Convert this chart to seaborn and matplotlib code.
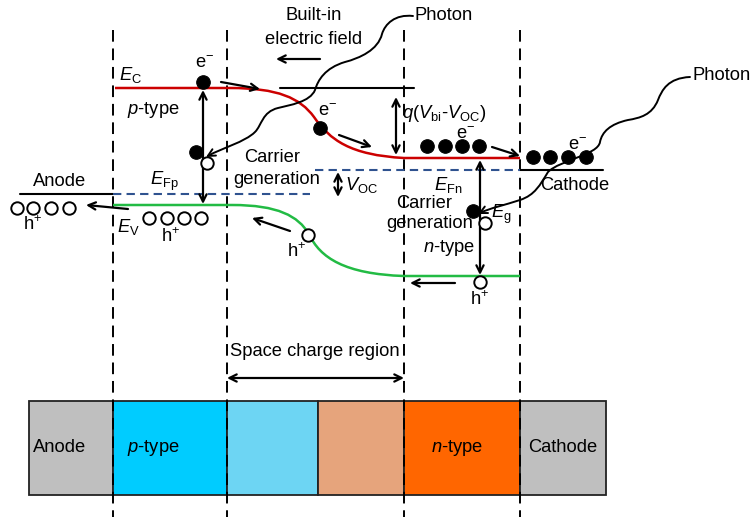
import numpy as np
import matplotlib
matplotlib.use('Agg')
import matplotlib.pyplot as plt
import seaborn as sns
from matplotlib.path import Path
from matplotlib.patches import PathPatch, FancyArrowPatch, Rectangle
import pandas as pd

sns.set_theme(style='white')
plt.rcParams['font.family'] = ['Liberation Sans', 'DejaVu Sans']
plt.rcParams['text.color'] = 'black'
plt.rcParams['mathtext.fontset'] = 'custom'
plt.rcParams['mathtext.rm'] = 'Liberation Sans'
plt.rcParams['mathtext.it'] = 'Liberation Sans:italic'
FS = 13.2

# ---- layout data (pixel space, y downward) ----
region_x = [113, 227, 404, 520]                      # dashed boundaries
box_edges = [29, 113, 227, 318, 404, 520, 606]
box_colors = ['#BFBFBF', '#00CCFF', '#6DD5F3', '#E6A47C', '#FF6600', '#BFBFBF']
box_labels = ['Anode', '$p$-type', '', '', '$n$-type', 'Cathode']
box_label_x = [60, 153, 0, 0, 457, 563]
box_top, box_bottom = 401, 495

# band edges as bezier control points
ec_pts = [(115, 88), (230, 88), (278, 88), (300, 98), (314, 117),
          (330, 140), (350, 155), (404, 158), (520, 158)]
ev_pts = [(113, 205), (232, 205), (278, 205), (298, 216), (309, 234),
          (320, 258), (345, 274), (404, 276), (520, 276)]
band_codes = [Path.MOVETO, Path.LINETO, Path.CURVE4, Path.CURVE4, Path.CURVE4,
              Path.CURVE4, Path.CURVE4, Path.CURVE4, Path.LINETO]

photon1 = [(413, 16), (395, 14), (385, 24), (382, 34), (378, 50), (360, 58), (345, 62),
           (325, 68), (318, 80), (315, 90), (310, 102), (290, 105), (278, 108),
           (262, 112), (262, 125), (255, 132), (245, 142), (222, 148), (206, 157)]
photon2 = [(690, 77), (668, 78), (662, 90), (658, 100), (652, 115), (640, 118), (628, 120),
           (610, 124), (602, 132), (600, 142), (598, 155), (560, 160), (548, 172),
           (540, 185), (535, 195), (520, 200), (505, 205), (490, 208), (478, 214)]

filled_x = [203, 196, 320, 427, 445, 462, 479, 533, 550, 568, 586, 473]
filled_y = [82, 152, 128, 146, 146, 146, 146, 157, 157, 157, 157, 211]
open_x = [207, 17, 33, 51, 69, 149, 167, 184, 201, 308, 485, 480]
open_y = [163, 208, 208, 208, 208, 218, 218, 218, 218, 235, 223, 282]

single_arrows = [((221, 82), (260, 89)), ((339, 135), (372, 147)), ((492, 147), (520, 156)),
                 ((320, 59), (276, 59)), ((128, 209), (86, 205)), ((290, 231), (252, 218)),
                 ((455, 283), (410, 283))]
double_arrows = [((203, 90), (203, 204)), ((480, 160), (480, 275)), ((396, 97), (396, 155)),
                 ((338, 172), (338, 197)), ((227, 378), (404, 378))]

level_lines = [((280, 414), (88, 88)), ((20, 113), (194, 194)), ((520, 603), (170, 170))]
fermi_lines = [((113, 310), (194, 194)), ((315, 520), (170, 170))]

labels = [
    ('Built-in', 314, 16, 'center'), ('electric field', 314, 39, 'center'),
    ('Photon', 415, 16, 'left'), ('Photon', 693, 75, 'left'),
    (r'$E_{\rm C}$', 119, 75, 'left'), ('$p$-type', 127, 110, 'left'),
    ('e$^{-}$', 205, 63, 'center'), ('e$^{-}$', 328, 111, 'center'),
    ('e$^{-}$', 466, 134, 'center'), ('e$^{-}$', 578, 145, 'center'),
    ('Carrier', 272, 157, 'center'), ('generation', 277, 180, 'center'),
    ('Anode', 60, 181, 'center'), (r'$E_{\rm Fp}$', 150, 181, 'left'),
    (r'$E_{\rm V}$', 117, 227, 'left'),
    ('h$^{+}$', 33, 225, 'center'), ('h$^{+}$', 171, 237, 'center'),
    ('h$^{+}$', 297, 252, 'center'), ('h$^{+}$', 480, 300, 'center'),
    (r'$V_{\rm OC}$', 345, 185, 'left'),
    (r'$q$($V_{\rm bi}$-$V_{\rm OC}$)', 402, 114, 'left'),
    (r'$E_{\rm Fn}$', 434, 185, 'left'), ('Cathode', 540, 185, 'left'),
    ('Carrier', 424, 203, 'center'), ('generation', 430, 224, 'center'),
    (r'$E_{\rm g}$', 491, 214, 'left'), ('$n$-type', 449, 248, 'center'),
    ('Space charge region', 315, 351, 'center'),
]

fig = plt.figure(figsize=(7.56, 5.17), dpi=100)
ax = fig.add_axes([0, 0, 1, 1])

# bottom device stack
for i, col in enumerate(box_colors):
    x0, x1 = box_edges[i], box_edges[i + 1]
    ax.add_patch(Rectangle((x0, box_top), x1 - x0, box_bottom - box_top,
                           facecolor=col, edgecolor='#222222', lw=1.3, zorder=1))
    if box_labels[i]:
        ax.text(box_label_x[i], (box_top + box_bottom) / 2, box_labels[i],
                ha='center', va='center', fontsize=FS, zorder=3)

# dashed region boundaries
for x in region_x:
    ax.plot([x, x], [30, 517], color='black', lw=1.4, ls=(0, (6, 3.5)), zorder=2)

# band edges
ax.add_patch(PathPatch(Path(ec_pts, band_codes), facecolor='none', edgecolor='#CC0000', lw=1.8, zorder=3))
ax.add_patch(PathPatch(Path(ev_pts, band_codes), facecolor='none', edgecolor='#22BB44', lw=1.8, zorder=3))

for xs, ys in level_lines:
    ax.plot(xs, ys, color='black', lw=1.5, zorder=3)
for xs, ys in fermi_lines:
    ax.plot(xs, ys, color='#2F528F', lw=1.5, ls=(0, (4, 2.5)), zorder=3)

# photons
for pts in (photon1, photon2):
    codes = [Path.MOVETO] + [Path.CURVE4] * (len(pts) - 1)
    ax.add_patch(FancyArrowPatch(path=Path(pts, codes), arrowstyle='->', mutation_scale=13,
                                 lw=1.4, color='black', zorder=5))

for (x0, y0), (x1, y1) in single_arrows:
    ax.annotate('', xy=(x1, y1), xytext=(x0, y0),
                arrowprops=dict(arrowstyle='->', lw=1.6, color='black',
                                shrinkA=0, shrinkB=0, mutation_scale=13), zorder=4)
for (x0, y0), (x1, y1) in double_arrows:
    ax.annotate('', xy=(x1, y1), xytext=(x0, y0),
                arrowprops=dict(arrowstyle='<->', lw=1.6, color='black',
                                shrinkA=0, shrinkB=0, mutation_scale=13), zorder=4)

# carriers
dots = pd.DataFrame({'x': filled_x, 'y': filled_y})
holes = pd.DataFrame({'x': open_x, 'y': open_y})
sns.scatterplot(data=dots, x='x', y='y', ax=ax, s=95, color='black', edgecolor='black', zorder=6)
sns.scatterplot(data=holes, x='x', y='y', ax=ax, s=80, facecolor='white', edgecolor='black',
                linewidth=1.4, zorder=6)
ax.set_xlim(0, 756)
ax.set_ylim(517, 0)
ax.axis('off')

for txt, x, y, ha in labels:
    ax.text(x, y, txt, ha=ha, va='center', fontsize=FS, zorder=7)

fig.savefig('out.png', dpi=100)
